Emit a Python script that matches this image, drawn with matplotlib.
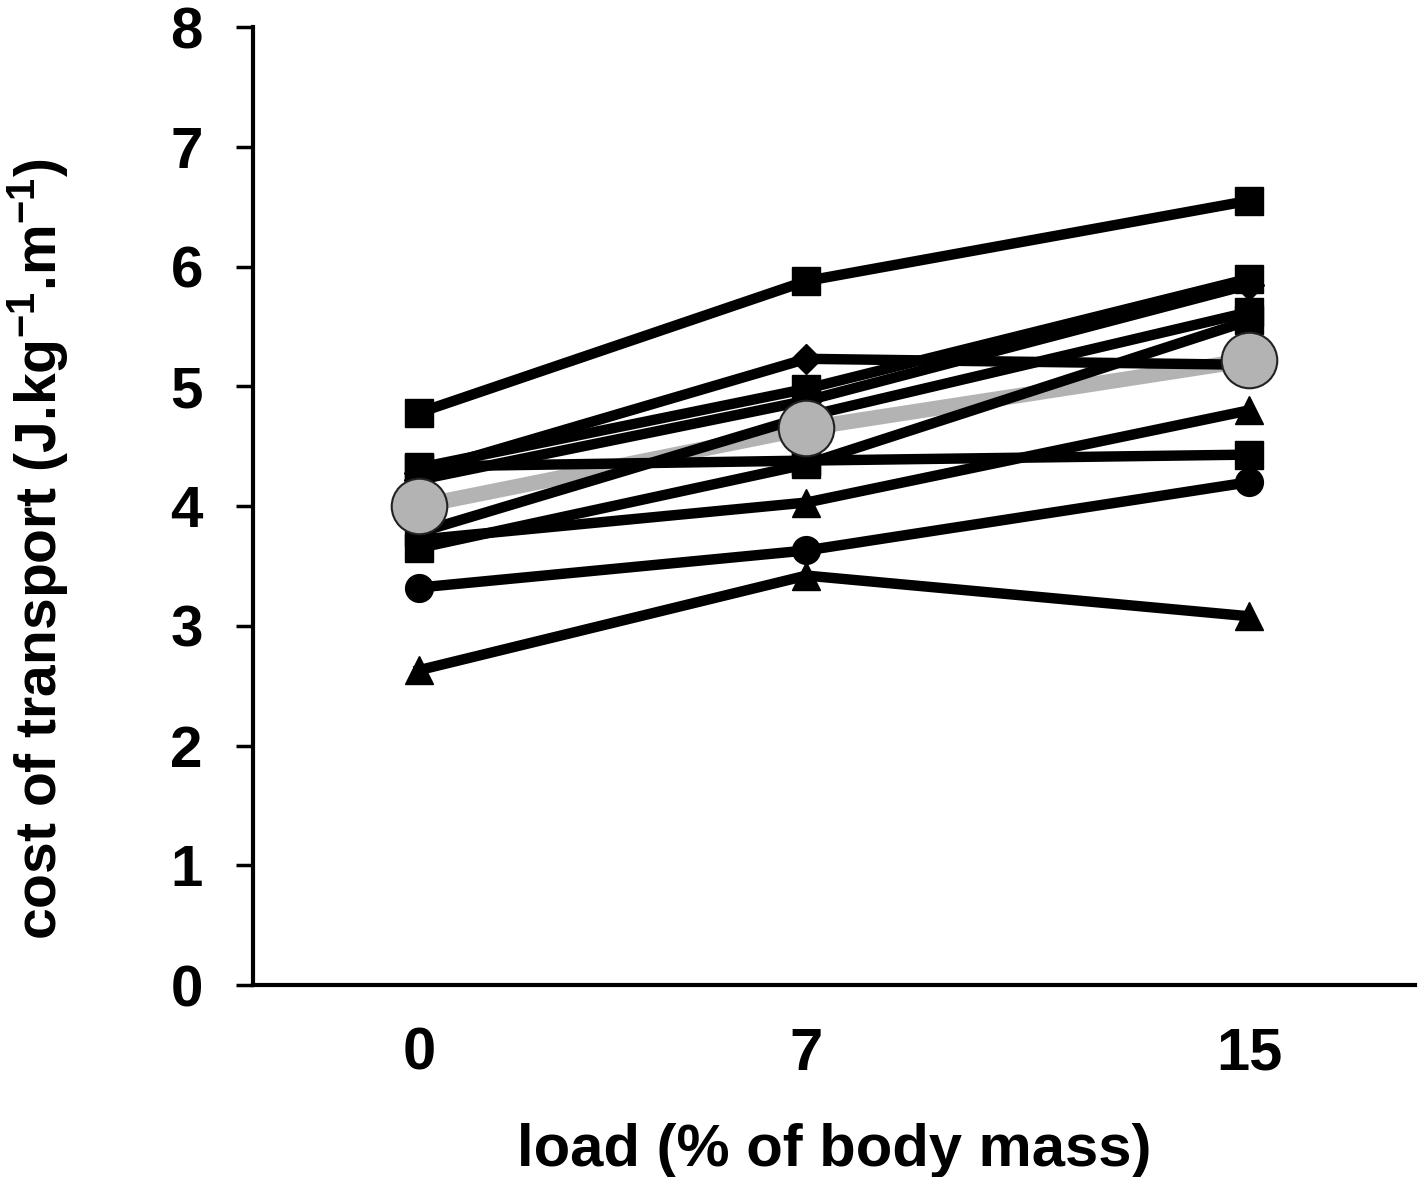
"""Cost of transport vs carried load, individual subjects + group mean."""

import matplotlib
matplotlib.use('Agg')
import matplotlib.pyplot as plt

plt.rcParams['font.family'] = ['Liberation Sans', 'DejaVu Sans']
plt.rcParams['font.weight'] = 'bold'
plt.rcParams['mathtext.fontset'] = 'custom'
plt.rcParams['mathtext.rm'] = 'Liberation Sans:bold'
plt.rcParams['mathtext.bf'] = 'Liberation Sans:bold'
plt.rcParams['mathtext.default'] = 'bf'

# ── data ─────────────────────────────────────────────────────────────────────
LOADS = [0, 7, 15]
TICK_LABELS = ['0', '7', '15']

SUBJECT_MARKERS = ['s', 'D', 's', 'D', 's', 's', '^', 's', 'o', '^']
SUBJECT_COT = [
    [4.78, 5.88, 6.55],
    [4.28, 5.23, 5.18],
    [4.32, 4.98, 5.90],
    [4.22, 4.88, 5.85],
    [3.78, 4.75, 5.62],
    [3.65, 4.35, 5.55],
    [3.72, 4.03, 4.80],
    [4.33, 4.38, 4.43],
    [3.32, 3.63, 4.20],
    [2.63, 3.42, 3.08],
]
MEAN_COT = [4.00, 4.65, 5.22]


def main():
    fig = plt.figure(figsize=(14.21, 11.77), dpi=100)
    ax = fig.add_axes([0.178, 0.163, 0.818, 0.814])

    # mean line underneath the individuals, markers on top
    ax.plot(LOADS, MEAN_COT, '-', color='#b3b3b3', linewidth=11, zorder=2,
            solid_capstyle='butt')
    for marker, vals in zip(SUBJECT_MARKERS, SUBJECT_COT):
        ms = 15 if marker == 'D' else 20
        ax.plot(LOADS, vals, '-', marker=marker, color='black', linewidth=7.5,
                markersize=ms, zorder=3)
    ax.plot(LOADS, MEAN_COT, 'o', color='#b3b3b3', markersize=40,
            markeredgecolor='#222222', markeredgewidth=1.5, zorder=4)

    ax.set_xlim(-3, 18)
    ax.set_ylim(0, 8)
    ax.set_xticks(LOADS)
    ax.set_xticklabels(TICK_LABELS)
    ax.set_yticks(range(0, 9))

    for side in ['top', 'right']:
        ax.spines[side].set_visible(False)
    for side in ['left', 'bottom']:
        ax.spines[side].set_linewidth(3)

    ax.tick_params(axis='y', direction='out', length=12, width=2.5,
                   labelsize=42, pad=24)
    ax.tick_params(axis='x', length=0, labelsize=43, pad=30)

    ax.set_xlabel('load (% of body mass)', fontsize=43, fontweight='bold',
                  labelpad=30)
    ax.set_ylabel('cost of transport (J.kg$^{-1}$.m$^{-1}$)', fontsize=41,
                  fontweight='bold')
    ax.yaxis.set_label_coords(-0.157, 0.455)

    fig.savefig('out.png', dpi=100)
    plt.close(fig)


if __name__ == "__main__":
    main()
